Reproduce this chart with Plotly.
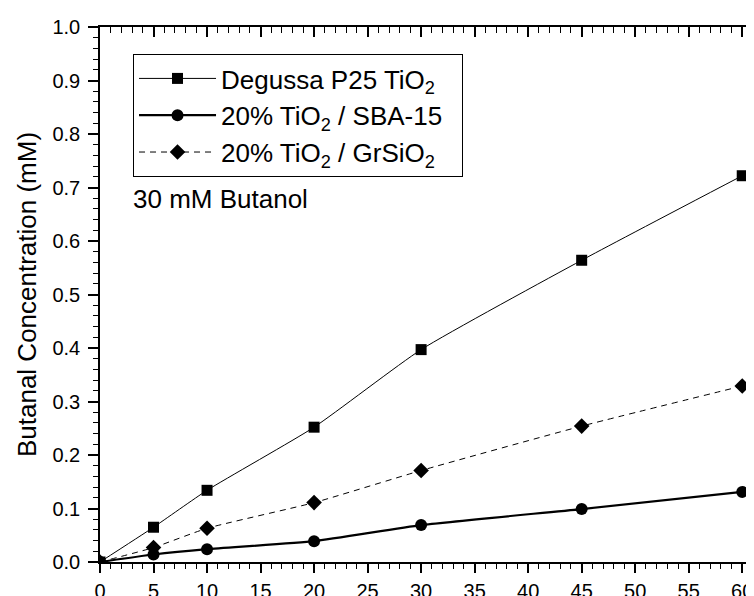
import plotly.graph_objects as go

time_min = [0, 5, 10, 20, 30, 45, 60]
p25 = [0.0, 0.065, 0.134, 0.252, 0.397, 0.564, 0.722]
sba15 = [0.0, 0.014, 0.024, 0.039, 0.069, 0.099, 0.131]
grsio2 = [0.0, 0.027, 0.063, 0.111, 0.171, 0.254, 0.329]

names = ["Degussa P25 TiO<sub>2</sub>",
         "20% TiO<sub>2</sub> / SBA-15\u00a0\u00a0",
         "20% TiO<sub>2</sub> / GrSiO<sub>2</sub>"]
y_ticks = [0.0, 0.1, 0.2, 0.3, 0.4, 0.5, 0.6, 0.7, 0.8, 0.9, 1.0]
x_ticks = [0, 5, 10, 15, 20, 25, 30, 35, 40, 45, 50, 55, 60]

FONT = "Liberation Sans, Arial, sans-serif"

fig = go.Figure()
fig.add_trace(go.Scatter(
    x=time_min, y=p25, name=names[0], mode="lines+markers",
    line=dict(color="black", width=1, shape="spline", smoothing=0.5),
    marker=dict(symbol="square", size=11, color="black")))
fig.add_trace(go.Scatter(
    x=time_min, y=sba15, name=names[1], mode="lines+markers",
    line=dict(color="black", width=2.2, shape="spline", smoothing=0.5),
    marker=dict(symbol="circle", size=12, color="black")))
fig.add_trace(go.Scatter(
    x=time_min, y=grsio2, name=names[2], mode="lines+markers",
    line=dict(color="black", width=1, dash="6px,5px", shape="spline", smoothing=0.5),
    marker=dict(symbol="diamond", size=12, color="black")))

# invisible trace for top axis
fig.add_trace(go.Scatter(x=[0], y=[None], xaxis="x2", showlegend=False,
                         hoverinfo="skip"))

fig.update_layout(
    width=754, height=596,
    margin=dict(l=92, r=8, t=19, b=42, autoexpand=False),
    paper_bgcolor="white", plot_bgcolor="white",
    font=dict(family=FONT, color="black"),
    xaxis=dict(range=[0, 61.1], tickvals=x_ticks, ticktext=[str(v) for v in x_ticks],
               showline=True, linecolor="black", linewidth=1.5,
               ticks="outside", ticklen=9, tickwidth=1.5, tickcolor="black",
               minor=dict(dtick=1, ticks="outside", ticklen=5, tickwidth=1.2,
                          tickcolor="black", showgrid=False),
               showgrid=False, zeroline=False, automargin=False,
               tickfont=dict(size=20, family=FONT), ticklabelstandoff=1),
    xaxis2=dict(range=[0, 61.1], overlaying="x", side="top", anchor="y",
                tickvals=x_ticks, showticklabels=False,
                showline=True, linecolor="black", linewidth=1.5,
                ticks="inside", ticklen=10, tickwidth=1.5, tickcolor="black",
                minor=dict(dtick=1, ticks="inside", ticklen=6, tickwidth=1.2,
                           tickcolor="black", showgrid=False),
                showgrid=False, zeroline=False, automargin=False),
    yaxis=dict(range=[0, 1.0], tickvals=y_ticks, tickformat=".1f",
               showline=True, linecolor="black", linewidth=1.5, mirror=False,
               ticks="outside", ticklen=10, tickwidth=1.5, tickcolor="black",
               minor=dict(dtick=0.02, ticks="outside", ticklen=5, tickwidth=1.2,
                          tickcolor="black", showgrid=False),
               showgrid=False, zeroline=False, automargin=False,
               tickfont=dict(size=20, family=FONT), ticklabelstandoff=4,
               title=dict(text="Butanal Concentration (mM)",
                          font=dict(size=26, family=FONT), standoff=8)),
    legend=dict(x=0.0505, y=0.9495, xanchor="left", yanchor="top",
                bordercolor="black", borderwidth=1, bgcolor="white",
                font=dict(size=26, family=FONT), itemwidth=77,
                tracegroupgap=0),
    showlegend=True,
    annotations=[dict(text="30 mM Butanol", x=0.047, y=0.6785,
                      xref="paper", yref="paper", xanchor="left", yanchor="middle",
                      showarrow=False, font=dict(size=26, family=FONT))],
)

fig.write_html("out.html")
